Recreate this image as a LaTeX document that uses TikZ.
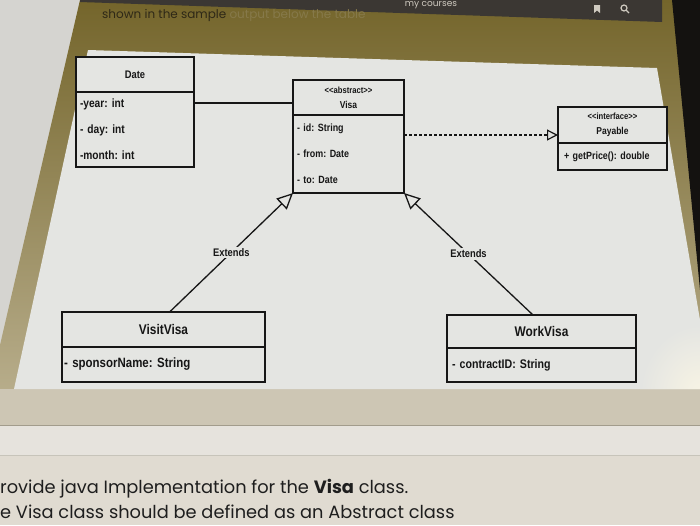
\documentclass[tikz,border=0pt]{standalone}
\usepackage{fontspec}
\setmainfont{Liberation Sans}
\newfontfamily\diag[FakeStretch=0.85]{Liberation Sans}
\newfontfamily\pagefont{Poppins}
\usetikzlibrary{arrows.meta,calc}
\frenchspacing
\definecolor{panelc}{HTML}{E4E5E2}
\definecolor{inkc}{HTML}{161616}
\definecolor{olivetop}{HTML}{74652B}
\definecolor{olivebot}{HTML}{BDB393}
\definecolor{beigec}{HTML}{CDC6B4}
\definecolor{lightband}{HTML}{E6E3DD}
\definecolor{pagec}{HTML}{E0DBD1}
\definecolor{bezel}{HTML}{141210}
\definecolor{topbar}{HTML}{3B3733}
\definecolor{greyout}{HTML}{D5D4D0}
\definecolor{rulec}{HTML}{A29C8C}
\definecolor{faintA}{HTML}{2E2817}
\definecolor{faintB}{HTML}{86794A}
\definecolor{iconc}{HTML}{CFCAC0}
\definecolor{pagetext}{HTML}{1E1E1E}
\definecolor{glare}{HTML}{F8F4E4}
\begin{document}
\begin{tikzpicture}[x=1pt,y=-1pt,
  box/.style={draw=inkc, line width=1.3pt, fill=panelc, inner ysep=0pt, inner xsep=4pt, text=inkc, outer sep=0pt},
  hdr/.style={box, align=center},
  attrs/.style={box, align=left},
  link/.style={draw=inkc, line width=1.3pt},
  realize/.style={link, dash pattern=on 3pt off 2pt, -{Triangle[open, length=11pt, width=11pt, line width=1.2pt]}},
  ext/.style={link, -{Triangle[open, length=16pt, width=15pt, line width=1.3pt]}},
  lbl/.style={fill=panelc, inner sep=1.5pt, text=inkc, font=\diag\bfseries\fontsize{11}{12}\selectfont},
  pagetxt/.style={anchor=base west, inner sep=0pt, text=pagetext, font=\pagefont\fontsize{17.8}{20}\selectfont}
]
\useasboundingbox (0,0) rectangle (700,525);
\clip (0,0) rectangle (700,525);
% ---------- photo background ----------
\fill[pagec] (0,0) rectangle (700,525);
\fill[greyout] (0,0) -- (80,0) -- (0,345) -- cycle;
\shade[top color=olivetop, bottom color=olivebot] (80,0) -- (700,0) -- (700,425) -- (0,425) -- (0,345) -- cycle;
\fill[beigec] (0,389) rectangle (700,425);
\fill[lightband] (0,426) rectangle (700,455);
\draw[rulec, line width=0.8pt] (0,425.5) -- (700,425.5);
\draw[rulec!60, line width=0.6pt] (0,455.5) -- (700,455.5);
\fill[bezel] (672,0) -- (700,0) -- (700,290) -- cycle;
\fill[topbar] (80,0) -- (662,0) -- (662,22) -- (80,2) -- cycle;
\node[text=iconc, inner sep=0pt, font=\pagefont\fontsize{9}{11}\selectfont] (mycourses) at (431,5) {my courses};
\fill[iconc] (594,5) -- (600,5) -- (600,13) -- (597,10.5) -- (594,13) -- cycle;
\draw[iconc, line width=1.2pt] (624,8) circle (3pt) (626,10) -- (629,13);
\node[anchor=base west, inner sep=0pt, font=\pagefont\fontsize{12}{14}\selectfont] (topline) at (102,18)
  {\textcolor{faintA}{shown in the sample} \textcolor{faintB}{output below the table}};
% panel
\fill[panelc] (88,50) -- (657,68) -- (700,320) -- (700,389) -- (14,389) -- cycle;
\begin{scope}
  \clip (88,50) -- (657,68) -- (700,320) -- (700,389) -- (14,389) -- cycle;
  \shade[inner color=glare, outer color=panelc] (700,395) ellipse (60pt and 70pt);
\end{scope}
% ---------- classes ----------
\node[hdr, anchor=north west, minimum width=118pt, minimum height=35pt,
      font=\diag\bfseries\fontsize{11}{13}\selectfont] (dateH) at (76,57) {Date};
\node[attrs, anchor=north, text width=110pt, minimum height=75pt,
      font=\diag\bfseries\fontsize{12}{26}\selectfont] (dateB) at (dateH.south) {-year: int\\- day: int\\-month: int};

\node[hdr, anchor=north west, minimum width=111pt, minimum height=35pt,
      font=\diag\bfseries\fontsize{10}{15}\selectfont] (visaH) at (293,80)
      {{\fontsize{9}{15}\selectfont\textless\textless abstract\textgreater\textgreater}\\Visa};
\node[attrs, anchor=north, text width=103pt, minimum height=78pt,
      font=\diag\bfseries\fontsize{10.5}{26}\selectfont] (visaB) at (visaH.south) {- id: String\\- from: Date\\- to: Date};

\node[hdr, anchor=north west, minimum width=109pt, minimum height=36pt,
      font=\diag\bfseries\fontsize{10}{15}\selectfont] (payH) at (558,107)
      {{\fontsize{9}{15}\selectfont\textless\textless interface\textgreater\textgreater}\\Payable};
\node[attrs, anchor=north, text width=97pt, inner xsep=6pt, minimum height=27pt,
      font=\diag\bfseries\fontsize{10.5}{13}\selectfont] (payB) at (payH.south) {+ getPrice(): double};

\node[hdr, anchor=north west, minimum width=203pt, minimum height=35pt,
      font=\diag\bfseries\fontsize{14}{16}\selectfont] (visitH) at (62,312) {VisitVisa};
\node[attrs, anchor=north, text width=199pt, inner xsep=2pt, minimum height=35pt,
      font=\diag\bfseries\fontsize{13.5}{16}\selectfont] (visitB) at (visitH.south) {- sponsorName: String};

\node[hdr, anchor=north west, minimum width=189pt, minimum height=33pt,
      font=\diag\bfseries\fontsize{14}{16}\selectfont] (workH) at (447,315) {WorkVisa};
\node[attrs, anchor=north, text width=179pt, inner xsep=5pt, minimum height=34pt,
      font=\diag\bfseries\fontsize{12.5}{16}\selectfont] (workB) at (workH.south) {- contractID: String};
% ---------- connectors ----------
\draw[link] ([yshift=-11pt]dateB.north east) -- ([yshift=-11pt]dateB.north east -| visaH.west);
\draw[realize] ([yshift=-20pt]visaB.north east) -- ([yshift=-20pt]visaB.north east -| payH.west);
\draw[ext] ($(visitH.north west)!0.53!(visitH.north east)$) -- node[lbl] (ext1) {Extends} (visaB.south west);
\draw[ext] ($(workH.north west)!0.455!(workH.north east)$) -- node[lbl] (ext2) {Extends} (visaB.south east);
% ---------- page text ----------
\node[pagetxt] (txt1) at (0,493) {rovide java Implementation for the \textbf{Visa} class.};
\node[pagetxt] (txt2) at (0,518.5) {e Visa class should be defined as an Abstract class};
\end{tikzpicture}
\end{document}
